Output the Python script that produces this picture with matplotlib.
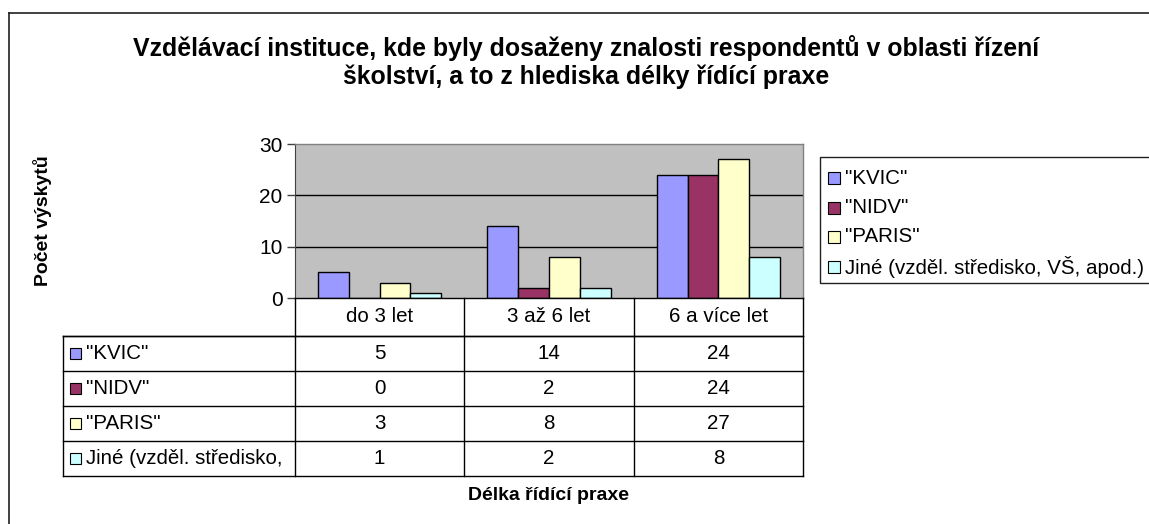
import matplotlib
matplotlib.use("Agg")
import matplotlib.pyplot as plt
from matplotlib.patches import Rectangle
from matplotlib.lines import Line2D
import numpy as np

plt.rcParams['font.family'] = ['Liberation Sans', 'DejaVu Sans']

categories = ["do 3 let", "3 až 6 let", "6 a více let"]
series_names = ['"KVIC"', '"NIDV"', '"PARIS"', 'Jiné (vzděl. středisko, VŠ, apod.)']
table_names = ['"KVIC"', '"NIDV"', '"PARIS"', 'Jiné (vzděl. středisko,']
kvic = [5, 14, 24]
nidv = [0, 2, 24]
paris = [3, 8, 27]
jine = [1, 2, 8]
series_values = [kvic, nidv, paris, jine]
colors = ["#9999FF", "#993366", "#FFFFCC", "#CCFFFF"]
y_ticks = [0, 10, 20, 30]
title = "Vzdělávací instituce, kde byly dosaženy znalosti respondentů v oblasti řízení\nškolství, a to z hlediska délky řídící praxe"
xlabel = "Délka řídící praxe"
ylabel = "Počet výskytů"

W, H = 1149, 524
fig = plt.figure(figsize=(W / 100, H / 100), dpi=100)
fig.patch.set_facecolor("white")

# pixel geometry
PL, PR, PT, PB = 295, 803, 144, 298
TL = 63
ROW = 35

def fx(x):
    return x / W

def fy(y):
    return 1 - y / H

ax = fig.add_axes([fx(PL), fy(PB), fx(PR) - fx(PL), fy(PT) - fy(PB)])
ax.set_facecolor("#C0C0C0")
n = len(series_values)
bw = 1 / 5.5
x = np.arange(len(categories))
for i, (vals, c) in enumerate(zip(series_values, colors)):
    ax.bar(x + (i - (n - 1) / 2) * bw, vals, width=bw, color=c, edgecolor="black",
           linewidth=1.0, zorder=3)
ax.set_xlim(-0.5, len(categories) - 0.5)
ax.set_ylim(0, 30)
ax.set_yticks(y_ticks)
ax.set_yticklabels([str(t) for t in y_ticks], fontsize=15)
ax.set_xticks([])
ax.tick_params(axis="y", direction="out", length=6, width=1, color="#404040", pad=3)
for t in y_ticks[1:-1]:
    ax.axhline(t, color="black", linewidth=1, zorder=1)
for s in ["top", "right"]:
    ax.spines[s].set_color("#808080")
    ax.spines[s].set_linewidth(1)
ax.spines["left"].set_color("#404040")
ax.spines["bottom"].set_visible(False)

# overlay in pixel coords
ov = fig.add_axes([0, 0, 1, 1], zorder=5)
ov.set_xlim(0, W)
ov.set_ylim(H, 0)
ov.axis("off")
ov.patch.set_alpha(0)

def line(x0, y0, x1, y1, c="black", lw=1.0):
    ov.add_line(Line2D([x0, x1], [y0, y1], color=c, linewidth=lw))

# outer frame
line(9, 13, W + 5, 13, c="#202020", lw=1.2)
line(9, 13, 9, H + 5, c="#202020", lw=1.2)

# title
ov.text(586, 62, title, ha="center", va="center", fontsize=17.9,
        fontweight="bold", linespacing=1.2)

# y label
ov.text(42, 221, ylabel, rotation=90, ha="center", va="center",
        fontsize=14, fontweight="bold")

# data table
cw = (PR - PL) / len(categories)
TT = PB + 38
TB = TT + ROW * len(table_names)
# header row
line(PL, PB, PR, PB)
line(PL, TT, PR, TT)
line(TL, TT, PL, TT)
for j in range(len(categories) + 1):
    line(PL + j * cw, PB, PL + j * cw, TB)
for j, cat in enumerate(categories):
    ov.text(PL + (j + 0.5) * cw, (PB + TT) / 2, cat, ha="center", va="center", fontsize=14.8)
for r in range(len(table_names) + 1):
    line(TL, TT + r * ROW, PR, TT + r * ROW)
line(TL, TT, TL, TB)
for r, (name, vals, c) in enumerate(zip(table_names, series_values, colors)):
    yc = TT + (r + 0.5) * ROW
    ov.add_patch(Rectangle((70, yc - 5.5), 11, 11, facecolor=c, edgecolor="black", linewidth=0.8))
    ov.text(86, yc, name, ha="left", va="center", fontsize=14.8)
    for j, v in enumerate(vals):
        ov.text(PL + (j + 0.5) * cw, yc, str(v), ha="center", va="center", fontsize=14.8)

# x label
ov.text((PL + PR) / 2, 495, xlabel, ha="center", va="center", fontsize=14, fontweight="bold")

# legend
ov.add_patch(Rectangle((820, 157), 400, 126, facecolor="white", edgecolor="#202020", linewidth=1.0))
for k, (name, c) in enumerate(zip(series_names, colors)):
    yc = 178 + k * 29.5
    ov.add_patch(Rectangle((828, yc - 6), 12, 12, facecolor=c, edgecolor="black", linewidth=0.8))
    ov.text(845, yc, name, ha="left", va="center", fontsize=14.8)

fig.savefig("out.png", dpi=100)
